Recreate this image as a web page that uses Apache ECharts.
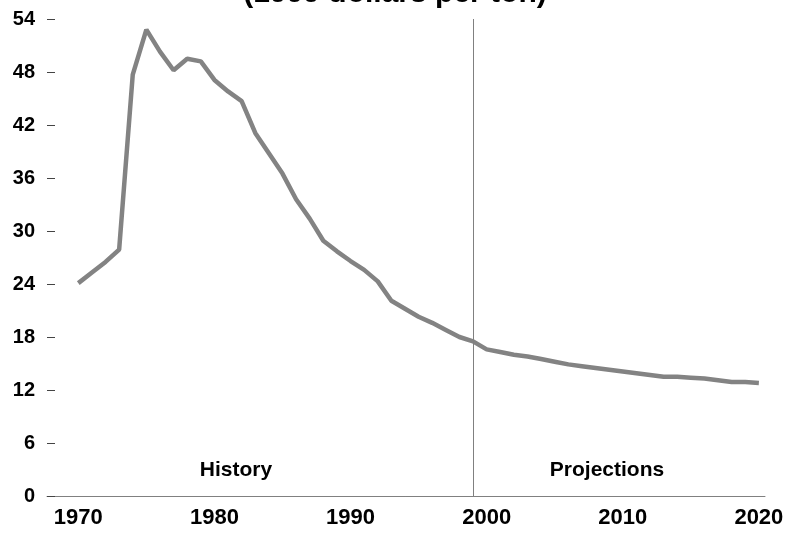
<!DOCTYPE html>
<html>
<head>
<meta charset="utf-8">
<title>Coal minemouth price</title>
<script src="https://cdn.jsdelivr.net/npm/echarts@6/dist/echarts.min.js"></script>
<style>
  html, body { margin: 0; padding: 0; background: #fff; }
  #chart { width: 789px; height: 533px; }
</style>
</head>
<body>
<div id="chart"></div>
<script>
// years 1970..2020, history up to 1999, projections after
var years = [];
for (var y = 1970; y <= 2020; y++) years.push(y);

var prices = [
  24.1, 25.3, 26.5, 27.9, 47.7, 52.8, 50.3, 48.2, 49.5, 49.2,
  47.1, 45.8, 44.7, 41.1, 38.8, 36.5, 33.6, 31.4, 28.9, 27.7,
  26.6, 25.6, 24.3, 22.1, 21.2, 20.3, 19.6, 18.8, 18.0, 17.5,
  16.6, 16.3, 16.0, 15.8, 15.5, 15.2, 14.9, 14.7, 14.5, 14.3,
  14.1, 13.9, 13.7, 13.5, 13.5, 13.4, 13.3, 13.1, 12.9, 12.9,
  12.8
];

var xTicks = [1970, 1980, 1990, 2000, 2010, 2020];
var splitYear = 1999;
var titleText = '(1999 dollars per ton)';
var periodLabels = ['History', 'Projections'];

var chart = echarts.init(document.getElementById('chart'));

chart.setOption({
  animation: false,
  textStyle: { fontFamily: "'Liberation Sans', Arial, sans-serif" },
  grid: { left: 47, right: 24, top: 19, bottom: 37 },
  graphic: [
    {
      // title is cut off by the top edge, only the lower half shows
      type: 'text', x: 395, y: -21,
      style: { text: titleText, font: "bold 30px 'Liberation Sans', Arial", fill: '#000', textAlign: 'center' }
    },
    {
      type: 'text', x: 236, y: 470,
      style: { text: periodLabels[0], font: "bold 21px 'Liberation Sans', Arial", fill: '#000', textAlign: 'center', textVerticalAlign: 'middle' }
    },
    {
      type: 'text', x: 607, y: 470,
      style: { text: periodLabels[1], font: "bold 21px 'Liberation Sans', Arial", fill: '#000', textAlign: 'center', textVerticalAlign: 'middle' }
    }
  ],
  xAxis: {
    type: 'value',
    min: 1967.7,
    max: 2020.45,
    splitLine: { show: false },
    axisLine: { show: true, lineStyle: { color: '#808080', width: 1 } },
    axisTick: { show: false },
    axisLabel: {
      customValues: xTicks,
      margin: 11,
      color: '#000',
      fontSize: 22,
      fontWeight: 'bold',
      formatter: function (v) { return String(v); }
    }
  },
  yAxis: {
    type: 'value',
    min: 0,
    max: 54,
    interval: 6,
    splitLine: { show: false },
    axisLine: { show: false },
    axisTick: { show: true, inside: true, length: 8, lineStyle: { color: '#444' } },
    axisLabel: { margin: 12, color: '#000', fontSize: 20, fontWeight: 'bold' }
  },
  series: [
    {
      type: 'line',
      data: years.map(function (yr, i) { return [yr, prices[i]]; }),
      symbol: 'none',
      lineStyle: { color: '#838383', width: 4.5 },
      markLine: {
        silent: true,
        symbol: 'none',
        label: { show: false },
        lineStyle: { color: '#808080', width: 1, type: 'solid' },
        data: [{ xAxis: splitYear }]
      }
    }
  ]
});
</script>
</body>
</html>
